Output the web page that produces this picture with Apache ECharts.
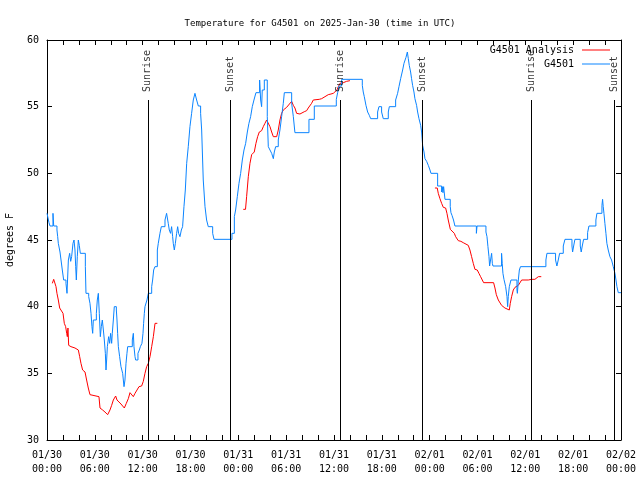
<!DOCTYPE html>
<html><head><meta charset="utf-8">
<script src="https://cdn.jsdelivr.net/npm/echarts@6.0.0/dist/echarts.min.js"></script>
<style>html,body{margin:0;padding:0;background:#fff}#c{width:640px;height:480px}</style>
</head><body><div id="c"></div>
<script>
const titleText = 'Temperature for G4501 on 2025-Jan-30 (time in UTC)';
const yAxisName = 'degrees F';
const xTickLabels = ['01/30\n00:00','01/30\n06:00','01/30\n12:00','01/30\n18:00','01/31\n00:00','01/31\n06:00','01/31\n12:00','01/31\n18:00','02/01\n00:00','02/01\n06:00','02/01\n12:00','02/01\n18:00','02/02\n00:00'];
const sunHours = [12.65, 23.0, 36.8, 47.08, 60.75, 71.16];
const sunLabels = ['Sunrise','Sunset','Sunrise','Sunset','Sunrise','Sunset'];

// hours since 2025-01-30 00:00 UTC
const blueHours = [0.0,0.08,0.25,0.38,0.75,0.84,1.25,1.34,1.42,1.63,1.76,1.92,2.09,2.38,2.51,2.68,2.84,2.97,3.09,3.26,3.39,3.51,3.6,3.68,3.8,3.93,4.05,4.18,4.81,4.89,5.23,5.39,5.52,5.64,5.73,5.81,6.19,6.31,6.44,6.56,6.69,6.81,6.94,7.07,7.19,7.32,7.4,7.48,7.57,7.73,7.86,7.98,8.11,8.19,8.32,8.44,8.7,8.78,8.86,8.95,9.11,9.28,9.49,9.66,9.78,9.91,10.03,10.12,10.7,10.83,10.91,11.04,11.12,11.41,11.58,11.71,11.91,12.04,12.12,12.21,12.29,12.54,12.71,
13.13,13.25,13.38,13.54,13.84,13.96,14.17,14.34,14.8,15.0,15.21,15.34,15.5,15.63,15.76,15.84,15.97,16.1,16.26,16.39,16.51,16.68,16.85,17.01,17.18,17.35,17.52,17.72,17.93,18.14,18.35,18.56,18.77,18.98,19.27,19.4,19.6,19.82,20.02,20.23,20.78,20.95,23.2,23.5,23.66,23.87,24.08,24.29,24.5,24.71,24.92,25.13,25.33,25.54,25.75,25.96,26.21,26.67,26.8,26.92,27.0,27.26,27.63,27.76,27.97,28.18,28.39,28.51,28.68,29.01,29.22,29.43,29.64,29.77,30.69,30.9,31.1,32.86,33.53,36.29,36.46,36.62,36.96,39.55,39.67,39.8,40.01,40.22,40.43,40.6,41.47,41.64,41.97,42.18,42.81,42.94,43.73,43.98,44.15,44.36,44.61,44.78,45.03,45.2,45.32,45.44,45.61,45.73,45.86,46.03,46.15,46.36,46.49,46.66,46.87,46.99,47.12,47.29,47.41,47.62,47.83,48.04,48.16,49.0,49.5,49.58,49.67,49.75,49.92,50.58,50.67,50.8,50.99,51.17,53.86,53.94,55.06,55.19,55.31,55.44,55.52,55.77,55.86,55.94,57.02,57.1,57.19,57.32,57.53,57.7,57.78,57.86,57.99,58.2,58.95,59.0,59.08,59.12,59.25,59.39,62.58,62.71,63.79,63.96,64.13,64.3,64.76,64.97,65.85,65.93,66.06,66.22,66.89,67.01,67.14,67.31,67.81,67.98,68.85,68.98,69.61,69.69,69.77,69.86,69.98,70.11,70.23,70.4,70.61,70.82,71.03,71.24,71.37,71.49,71.66,72.0];
const blueTemps = [47.0,47.0,46.3,46.05,47.0,46.05,45.75,45.25,44.75,44.1,43.5,42.75,42.0,41.75,41.0,43.5,44.0,43.4,43.75,44.75,45.0,44.25,43.0,42.0,43.75,45.0,44.6,44.0,43.0,41.0,40.75,40.25,39.5,38.5,38.0,39.0,39.5,40.5,41.0,39.5,37.75,38.5,39.0,38.25,37.5,36.5,35.25,36.0,37.0,37.75,37.25,38.0,37.25,38.0,39.0,40.0,39.75,39.0,38.0,37.0,36.25,35.5,35.0,34.0,34.5,35.75,36.5,37.0,37.5,38.0,37.0,36.25,36.0,36.5,36.75,37.0,37.25,38.0,38.75,39.5,40.0,40.5,41.0,
41.5,42.0,42.75,43.0,44.25,44.75,45.5,46.0,46.5,47.0,46.25,45.75,45.5,46.0,45.25,44.75,44.25,44.75,45.5,46.0,45.5,45.25,45.75,46.0,47.5,48.75,50.75,52.0,53.5,54.5,55.5,56.0,55.5,55.05,54.5,53.25,49.5,47.5,46.5,46.0,45.5,45.05,45.5,46.75,47.25,48.25,49.25,50.0,51.0,51.75,52.25,53.1,53.75,54.25,55.0,55.5,56.05,57.0,55.5,55.0,56.25,57.0,54.25,52.0,51.75,51.5,51.1,51.6,52.0,52.5,53.25,54.25,55.25,56.05,55.25,54.25,53.05,54.05,55.05,55.55,56.05,56.55,57.05,56.6,56.1,55.75,55.1,54.6,54.35,54.1,54.6,55.0,54.6,54.1,54.6,55.0,55.5,56.0,56.5,57.1,57.75,58.25,58.7,59.1,58.6,58.1,57.6,57.1,56.6,56.1,55.6,55.1,54.6,54.1,53.6,53.1,52.1,51.6,51.1,50.9,50.6,50.25,50.0,49.05,48.6,49.0,48.55,49.0,48.05,47.5,47.05,46.85,46.5,46.05,45.5,46.05,45.6,45.25,44.5,43.75,43.05,44.0,43.25,43.05,44.0,43.25,42.5,42.05,41.5,40.75,40.0,40.75,41.5,42.0,41.25,41.0,41.6,42.0,42.75,43.0,43.5,44.0,43.5,43.05,43.5,44.0,44.55,45.05,44.55,44.1,44.55,45.05,44.55,44.1,44.55,45.05,45.55,46.05,46.5,47.0,47.6,48.05,47.5,47.0,46.25,45.5,44.75,44.25,43.75,43.5,43.0,42.5,42.0,41.5,41.05,41.05];

const redHours = [0.67,0.84,0.97,1.13,1.25,1.42,1.59,1.84,2.01,2.17,2.34,2.47,2.55,2.63,2.72,3.01,3.51,3.93,4.1,4.26,4.47,4.64,4.77,4.97,5.18,5.39,5.52,6.52,6.65,6.98,7.27,7.61,7.9,8.11,8.32,8.61,8.78,8.95,9.28,9.49,9.7,9.95,10.2,10.41,10.62,10.83,11.04,11.29,11.54,11.87,12.08,12.29,12.5,12.71,12.92,13.13,13.34,13.55,13.84,
19.0,
24.62,24.9,25.04,25.25,25.46,25.67,26.0,26.21,26.42,26.63,26.92,27.13,27.34,27.55,27.76,27.97,28.18,28.39,28.6,28.81,29.01,29.22,29.43,29.64,29.85,30.06,30.27,30.69,30.9,31.1,31.31,31.52,31.73,31.94,32.27,32.57,32.77,32.98,33.19,33.4,33.61,34.15,34.45,34.87,35.28,35.62,35.91,36.12,36.37,36.54,36.75,37.17,37.58,38.0,
43.0,
48.66,48.95,49.08,49.29,49.5,49.71,50.0,50.17,50.33,50.59,50.84,51.09,51.26,51.59,51.92,52.21,52.42,52.84,53.05,53.26,53.47,53.68,53.97,54.18,54.39,54.6,54.77,56.02,56.19,56.36,56.61,56.86,57.02,57.23,57.44,57.65,57.99,58.11,58.28,58.49,58.7,58.9,59.12,59.33,59.54,60.37,60.79,61.2,61.41,61.63,62.0];
const redTemps = [41.75,42.05,41.9,41.5,41.0,40.5,39.9,39.75,39.5,38.75,38.5,38.0,37.75,38.4,37.1,37.0,36.9,36.75,36.25,35.75,35.25,35.4,35.1,34.5,33.9,33.4,33.25,33.25,32.4,32.25,32.1,31.9,32.25,32.6,33.0,33.3,33.0,32.9,32.7,32.6,32.4,32.75,33.1,33.55,33.4,33.25,33.5,33.75,34.0,34.05,34.4,35.0,35.5,35.75,36.25,37.0,37.75,38.75,38.75,
null,
47.3,47.3,48.25,49.75,50.75,51.4,51.6,52.25,52.75,53.1,53.2,53.5,53.75,54.0,53.9,53.5,53.1,52.75,52.6,52.75,53.25,54.0,54.5,54.75,54.75,54.95,55.1,55.4,55.1,54.9,54.5,54.4,54.45,54.55,54.62,54.7,54.9,55.05,55.25,55.5,55.55,55.55,55.6,55.75,55.9,55.95,56.0,56.1,56.25,56.5,56.75,56.8,56.9,56.95,
null,
48.9,48.9,48.5,48.1,47.75,47.45,47.4,47.0,46.5,45.8,45.7,45.5,45.25,44.95,44.9,44.8,44.7,44.6,44.25,43.75,43.25,42.8,42.75,42.5,42.25,42.0,41.8,41.8,41.4,40.9,40.5,40.4,40.1,40.0,39.9,39.75,39.75,40.25,40.75,41.25,41.45,41.55,41.6,41.75,42.0,42.0,42.05,42.05,42.1,42.25,42.25];

const FONT = '"DejaVu Sans Mono", monospace';
const chart = echarts.init(document.getElementById('c'), null, {renderer: 'canvas'});
const axisBase = {
  type: 'value',
  axisLine: {show: true, onZero: false, lineStyle: {color: '#000', width: 1}},
  axisTick: {show: true, inside: true, length: 5, lineStyle: {color: '#000', width: 1}},
  splitLine: {show: false}
};
const legendBase = {
  orient: 'vertical', align: 'right', icon: 'rect', itemWidth: 28, itemHeight: 1,
  padding: 0, itemGap: 0, right: 30,
  textStyle: {fontFamily: FONT, fontSize: 10, color: '#000', padding: [0, 3, 0, 0]}
};
chart.setOption({
  animation: false,
  backgroundColor: '#fff',
  title: {text: titleText, left: 'center', top: 14,
    textStyle: {fontFamily: FONT, fontSize: 9, fontWeight: 'normal', color: '#000'}},
  legend: [
    Object.assign({}, legendBase, {data: ['G4501 Analysis'], top: 45}),
    Object.assign({}, legendBase, {data: ['G4501'], top: 59})
  ],
  grid: {left: 47, right: 19, top: 40, bottom: 40, containLabel: false, outerBoundsMode: 'none'},
  xAxis: [
    Object.assign({}, axisBase, {position: 'bottom', min: 0, max: 72, interval: 2,
      axisLabel: {show: true, color: '#000', fontFamily: FONT, fontSize: 10, margin: 8, lineHeight: 14,
        showMinLabel: true, showMaxLabel: true,
        formatter: v => (v % 6 === 0 ? xTickLabels[v / 6] : '')}}),
    Object.assign({}, axisBase, {position: 'top', min: 0, max: 72, interval: 2, axisLabel: {show: false}})
  ],
  yAxis: [
    Object.assign({}, axisBase, {position: 'left', min: 30, max: 60, interval: 5,
      name: yAxisName, nameLocation: 'middle', nameGap: 32, nameRotate: 90,
      nameTextStyle: {fontFamily: FONT, fontSize: 10, color: '#000'},
      axisLabel: {show: true, color: '#000', fontFamily: FONT, fontSize: 10, margin: 8}}),
    Object.assign({}, axisBase, {position: 'right', min: 30, max: 60, interval: 5, axisLabel: {show: false}})
  ],
  series: [
    {name: 'G4501 Analysis', type: 'line', showSymbol: false, symbol: 'none', z: 3,
      connectNulls: false,
      color: '#ff0000', lineStyle: {color: '#ff0000', width: 1},
      data: redHours.map((h, i) => [h, redTemps[i]])},
    {name: 'G4501', type: 'line', showSymbol: false, symbol: 'none', step: 'end', z: 4,
      color: '#0a84ff', lineStyle: {color: '#0a84ff', width: 1},
      data: blueHours.map((h, i) => [h, blueTemps[i]])},
    {name: 'sun', type: 'scatter', symbolSize: 0, z: 5, silent: true,
      data: sunHours.map((h, i) => [h, 55.5, sunLabels[i]]),
      label: {show: true, position: 'top', distance: 8, rotate: 90, align: 'left', verticalAlign: 'middle',
        fontFamily: FONT, fontSize: 10, color: '#000', formatter: p => p.data[2]},
      markLine: {silent: true, symbol: ['none', 'none'], label: {show: false},
        lineStyle: {color: '#000', width: 1, type: 'solid'},
        data: sunHours.map(h => [{coord: [h, 30]}, {coord: [h, 55.5]}])}}
  ]
});
</script></body></html>
